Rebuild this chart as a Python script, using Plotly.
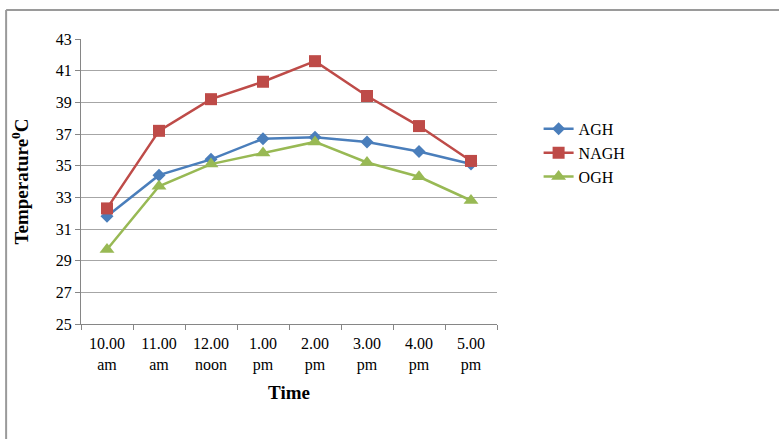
import plotly.graph_objects as go

categories = ["10.00<br>am", "11.00<br>am", "12.00<br>noon", "1.00<br>pm",
              "2.00<br>pm", "3.00<br>pm", "4.00<br>pm", "5.00<br>pm"]
agh = [31.8, 34.4, 35.4, 36.7, 36.8, 36.5, 35.9, 35.1]
nagh = [32.3, 37.2, 39.2, 40.3, 41.6, 39.4, 37.5, 35.3]
ogh = [29.7, 33.7, 35.1, 35.8, 36.5, 35.2, 34.3, 32.8]
y_ticks = [25, 27, 29, 31, 33, 35, 37, 39, 41, 43]

font = "Liberation Serif"
fig = go.Figure()
fig.add_trace(go.Scatter(x=categories, y=agh, name="AGH", mode="lines+markers",
                         line=dict(color="#4a7ebb", width=2.5),
                         marker=dict(symbol="diamond", size=10, color="#4a7ebb")))
fig.add_trace(go.Scatter(x=categories, y=nagh, name="NAGH", mode="lines+markers",
                         line=dict(color="#be4b48", width=2.5),
                         marker=dict(symbol="square", size=12, color="#be4b48")))
fig.add_trace(go.Scatter(x=categories, y=ogh, name="OGH", mode="lines+markers",
                         line=dict(color="#98b954", width=2.5),
                         marker=dict(symbol="triangle-up", size=13, color="#98b954")))

fig.update_layout(
    width=779, height=439,
    margin=dict(l=81, r=282, t=39, b=115),
    paper_bgcolor="white", plot_bgcolor="white",
    font=dict(family=font, size=16, color="black"),
    showlegend=True,
    legend=dict(x=1.1, y=0.744, xanchor="left", yanchor="top",
                font=dict(family=font, size=16), tracegroupgap=0,
                itemwidth=30, bgcolor="rgba(0,0,0,0)"),
    xaxis=dict(type="category", range=[-0.5, 7.5], tickson="boundaries",
               ticks="outside", ticklen=5, tickcolor="#868686",
               showline=True, linecolor="#868686", linewidth=1,
               showgrid=False, tickfont=dict(family=font, size=16),
               ticklabelstandoff=5,
               title=dict(text="<b>Time</b>", font=dict(family=font, size=19), standoff=12)),
    yaxis=dict(range=[25, 43], tickvals=y_ticks, ticks="outside", ticklen=5,
               tickcolor="#868686", showline=True, linecolor="#868686", linewidth=1,
               showgrid=True, gridcolor="#a6a6a6", gridwidth=1, zeroline=False,
               tickfont=dict(family=font, size=16),
               title=dict(text="<b>Temperature<sup>0</sup>C</b>", font=dict(family=font, size=19), standoff=22)),
)

# outer chart frame (left and top edges visible)
fig.add_shape(type="line", xref="paper", yref="paper",
              x0=-0.18, x1=1.8, y0=1.102, y1=1.102,
              line=dict(color="#9a9a9a", width=2))
fig.add_shape(type="line", xref="paper", yref="paper",
              x0=-0.18, x1=-0.18, y0=1.102, y1=-0.6,
              line=dict(color="#9a9a9a", width=2))

fig.write_html("out.html", config={"displayModeBar": False},
               post_script="document.body.style.margin='0';")
